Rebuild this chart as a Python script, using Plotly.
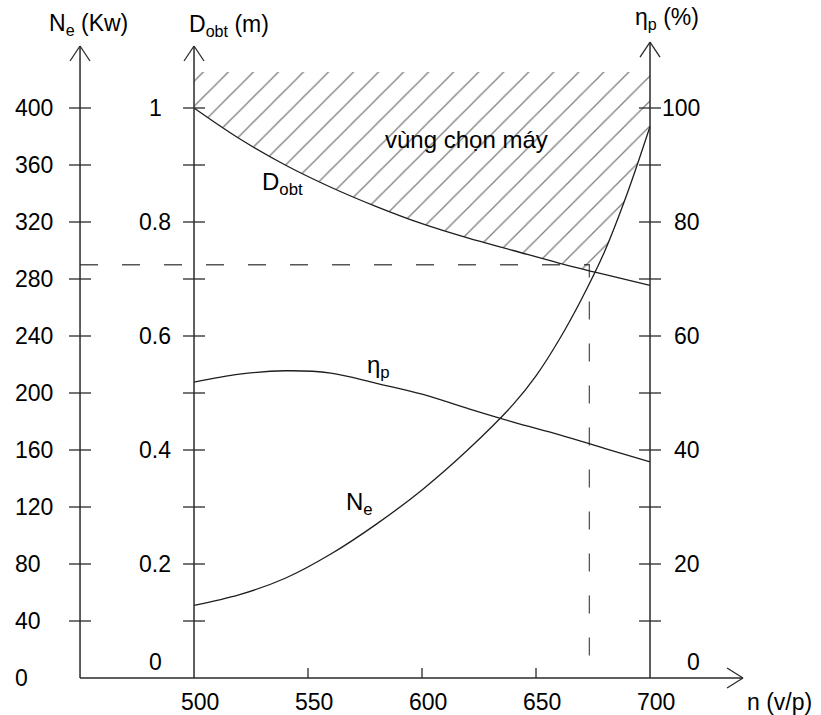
import numpy as np
import plotly.graph_objects as go

# ---------------- data ----------------
n_ne = [500, 520, 540, 560, 580, 600, 620, 640, 650, 660, 670, 680, 690, 700]
ne_kw = [51, 58.5, 70, 87, 108, 132, 160, 192, 212, 237, 266, 299, 340, 387]

n_d = [500, 520, 540, 560, 580, 600, 620, 640, 660, 680, 700]
d_obt = [1.0, 0.946, 0.900, 0.861, 0.827, 0.797, 0.772, 0.750, 0.728, 0.708, 0.689]

n_eta = [500, 520, 540, 560, 580, 600, 620, 640, 660, 680, 700]
eta_p = [51.9, 53.3, 53.9, 53.5, 51.7, 49.8, 47.3, 44.9, 42.7, 40.3, 37.9]

n_ticks = [500, 550, 600, 650, 700]
n_labels = ["500", "550", "600", "650", "700"]

ne_ticks = [40, 80, 120, 160, 200, 240, 280, 320, 360, 400]
ne_label_vals = [0, 40, 80, 120, 160, 200, 240, 280, 320, 360, 400]
ne_labels = ["0", "40", "80", "120", "160", "200", "240", "280", "320", "360", "400"]

d_ticks = [0.1, 0.2, 0.3, 0.4, 0.5, 0.6, 0.7, 0.8, 0.9, 1.0]
d_label_vals = [0, 0.2, 0.4, 0.6, 0.8, 1.0]
d_labels = ["0", "0.2", "0.4", "0.6", "0.8", "1"]

eta_ticks = [10, 20, 30, 40, 50, 60, 70, 80, 90, 100]
eta_label_vals = [0, 20, 40, 60, 80, 100]
eta_labels = ["0", "20", "40", "60", "80", "100"]

sel_n = 673.4      # chosen speed (dashed vertical)
sel_ne = 290       # chosen power (dashed horizontal)
hatch_top_d = 1.063

# ---------------- geometry of the frame ----------------
X_RANGE = [414.9, 775.0]
NE_RANGE = [-25.96, 475.79]
D_RANGE = [v / 400 for v in NE_RANGE]
ETA_RANGE = [v / 4 for v in NE_RANGE]
N_NE_AXIS = 450        # position of the Ne axis on the n scale
N_END = 740.8          # arrow tip of n axis
NE_AXIS_TOP = 443.5
ETA_AXIS_TOP = 446.3

FONT = "Liberation Sans, Arial, sans-serif"
AX = "#2a2a2a"
CUR = "#1e1e1e"
TICK_FS = 23
TITLE_FS = 23
LABEL_FS = 24

fig = go.Figure()

# ---------------- hatched region (vùng chọn máy) ----------------
grid = sorted(set(n_d) | set(n_ne))
d_g = np.interp(grid, n_d, d_obt)
ne_g = np.interp(grid, n_ne, ne_kw) / 400.0
diff = ne_g - d_g
i = int(np.argmax(diff > 0))
t = -diff[i - 1] / (diff[i] - diff[i - 1])
n_int = grid[i - 1] + t * (grid[i] - grid[i - 1])
d_int = d_g[i - 1] + t * (d_g[i] - d_g[i - 1])
px_, py_ = [], []
for g, dv in zip(grid, d_g):
    if g < n_int:
        px_.append(g); py_.append(dv)
px_.append(n_int); py_.append(d_int)
for g, nv in zip(grid, ne_g):
    if g > n_int:
        px_.append(g); py_.append(nv)
px_ += [n_d[-1], n_d[0], n_d[0]]
py_ += [hatch_top_d, hatch_top_d, d_obt[0]]

fig.add_trace(go.Scatter(
    x=px_, y=py_, yaxis="y2", mode="lines", line=dict(width=0),
    fill="toself", fillcolor="rgba(0,0,0,0)",
    fillpattern=dict(shape="/", size=17.7, solidity=0.075,
                     fgcolor="#000000", bgcolor="rgba(0,0,0,0)"),
    hoverinfo="skip"))

# ---------------- curves ----------------
fig.add_trace(go.Scatter(x=n_d, y=d_obt, yaxis="y2", mode="lines",
                         line=dict(color=CUR, width=1.3, shape="spline")))
fig.add_trace(go.Scatter(x=n_ne, y=ne_kw, yaxis="y", mode="lines",
                         line=dict(color=CUR, width=1.3, shape="spline")))
fig.add_trace(go.Scatter(x=n_eta, y=eta_p, yaxis="y3", mode="lines",
                         line=dict(color=CUR, width=1.3, shape="spline")))

# dashed selection lines
fig.add_trace(go.Scatter(x=[N_NE_AXIS, sel_n, sel_n], y=[sel_ne, sel_ne, 0],
                         yaxis="y", mode="lines",
                         line=dict(color="#555555", width=1.3, dash="18px,24px")))

shapes = []
ann = []

def vline(x, top, yref="y"):
    shapes.append(dict(type="line", xref="x", yref=yref, x0=x, x1=x, y0=0, y1=top,
                       line=dict(color=AX, width=1.5)))

# axis lines
vline(N_NE_AXIS, NE_AXIS_TOP)
vline(n_ticks[0], NE_AXIS_TOP)
vline(n_ticks[-1], ETA_AXIS_TOP)
shapes.append(dict(type="line", xref="x", yref="y", x0=N_NE_AXIS, x1=N_END, y0=0, y1=0,
                   line=dict(color=AX, width=1.5)))

# arrow heads
def arrow_up(x, top):
    for s in (-1, 1):
        shapes.append(dict(type="line", xref="x", yref="y", xsizemode="pixel", ysizemode="pixel",
                           xanchor=x, yanchor=top, x0=10 * s, y0=-15, x1=0, y1=0,
                           line=dict(color=AX, width=1.3)))

arrow_up(N_NE_AXIS, NE_AXIS_TOP)
arrow_up(n_ticks[0], NE_AXIS_TOP)
arrow_up(n_ticks[-1], ETA_AXIS_TOP)
for s in (-1, 1):
    shapes.append(dict(type="line", xref="x", yref="y", xsizemode="pixel", ysizemode="pixel",
                       xanchor=N_END, yanchor=0, x0=-16, y0=10 * s, x1=0, y1=0,
                       line=dict(color=AX, width=1.3)))

# cross ticks on the vertical axes
def cross_ticks(x, vals, yref):
    for v in vals:
        shapes.append(dict(type="line", xref="x", yref=yref, xsizemode="pixel", xanchor=x,
                           x0=-11, x1=11, y0=v, y1=v, line=dict(color=AX, width=1.3)))

cross_ticks(N_NE_AXIS, ne_ticks, "y")
cross_ticks(n_ticks[0], d_ticks, "y2")
cross_ticks(n_ticks[-1], eta_ticks, "y3")

# x ticks (inside, upward)
for v in n_ticks[1:-1]:
    shapes.append(dict(type="line", xref="x", yref="y", ysizemode="pixel", yanchor=0,
                       x0=v, x1=v, y0=0, y1=10, line=dict(color=AX, width=1.3)))

# tick labels
for v, s in zip(n_ticks, n_labels):
    ann.append(dict(x=v, y=0, xref="x", yref="y", text=s, showarrow=False,
                    xanchor="center", yanchor="middle", xshift=6, yshift=-24,
                    font=dict(size=TICK_FS, color="black", family=FONT)))
for v, s in zip(ne_label_vals, ne_labels):
    ann.append(dict(x=N_NE_AXIS, y=v, xref="x", yref="y", text=s, showarrow=False,
                    xanchor="left", yanchor="middle", xshift=-67,
                    font=dict(size=TICK_FS, color="black", family=FONT)))
for v, s in zip(d_label_vals, d_labels):
    ann.append(dict(x=n_ticks[0], y=v, xref="x", yref="y2", text=s, showarrow=False,
                    xanchor="center", yanchor="middle", xshift=-39,
                    yshift=16 if v == 0 else 0,
                    font=dict(size=TICK_FS, color="black", family=FONT)))
for v, s in zip(eta_label_vals, eta_labels):
    ann.append(dict(x=n_ticks[-1], y=v, xref="x", yref="y3", text=s, showarrow=False,
                    xanchor="right", yanchor="middle", xshift=52,
                    yshift=16 if v == 0 else 0,
                    font=dict(size=TICK_FS, color="black", family=FONT)))

# axis titles
ann.append(dict(x=N_NE_AXIS, y=NE_AXIS_TOP, xref="x", yref="y", text="N<sub>e</sub> (Kw)",
                showarrow=False, xanchor="center", yanchor="middle", xshift=8, yshift=22,
                font=dict(size=TITLE_FS, color="black", family=FONT)))
ann.append(dict(x=n_ticks[0], y=NE_AXIS_TOP, xref="x", yref="y", text="D<sub>obt</sub> (m)",
                showarrow=False, xanchor="center", yanchor="middle", xshift=35, yshift=21,
                font=dict(size=TITLE_FS, color="black", family=FONT)))
ann.append(dict(x=n_ticks[-1], y=ETA_AXIS_TOP, xref="x", yref="y", text="η<sub>p</sub> (%)",
                showarrow=False, xanchor="center", yanchor="middle", xshift=17, yshift=24,
                font=dict(size=TITLE_FS, color="black", family=FONT)))
ann.append(dict(x=N_END, y=0, xref="x", yref="y", text="n (v/p)",
                showarrow=False, xanchor="left", yanchor="middle", xshift=2, yshift=-24,
                font=dict(size=TICK_FS, color="black", family=FONT)))

# curve labels
ann.append(dict(x=539, y=0.867, xref="x", yref="y2", text="D<sub>obt</sub>", showarrow=False,
                font=dict(size=LABEL_FS, color="black", family=FONT)))
ann.append(dict(x=581, y=54.7, xref="x", yref="y3", text="η<sub>p</sub>", showarrow=False,
                font=dict(size=LABEL_FS, color="black", family=FONT)))
ann.append(dict(x=572.4, y=122.8, xref="x", yref="y", text="N<sub>e</sub>", showarrow=False,
                font=dict(size=LABEL_FS, color="black", family=FONT)))
ann.append(dict(x=619.7, y=0.944, xref="x", yref="y2", text="vùng chọn máy", showarrow=False,
                font=dict(size=LABEL_FS, color="black", family=FONT)))

fig.update_layout(
    width=821, height=715, autosize=False,
    margin=dict(l=0, r=0, t=0, b=0, pad=0),
    paper_bgcolor="white", plot_bgcolor="white",
    showlegend=False, hovermode=False,
    xaxis=dict(range=X_RANGE, visible=False, fixedrange=True),
    yaxis=dict(range=NE_RANGE, visible=False, fixedrange=True),
    yaxis2=dict(range=D_RANGE, visible=False, overlaying="y", fixedrange=True),
    yaxis3=dict(range=ETA_RANGE, visible=False, overlaying="y", fixedrange=True),
    shapes=shapes, annotations=ann,
)

fig.write_html(
    "out.html",
    config={"displayModeBar": False, "staticPlot": True},
    post_script="document.body.style.margin='0px';document.body.style.padding='0px';"
                "document.body.style.overflow='hidden';",
)
